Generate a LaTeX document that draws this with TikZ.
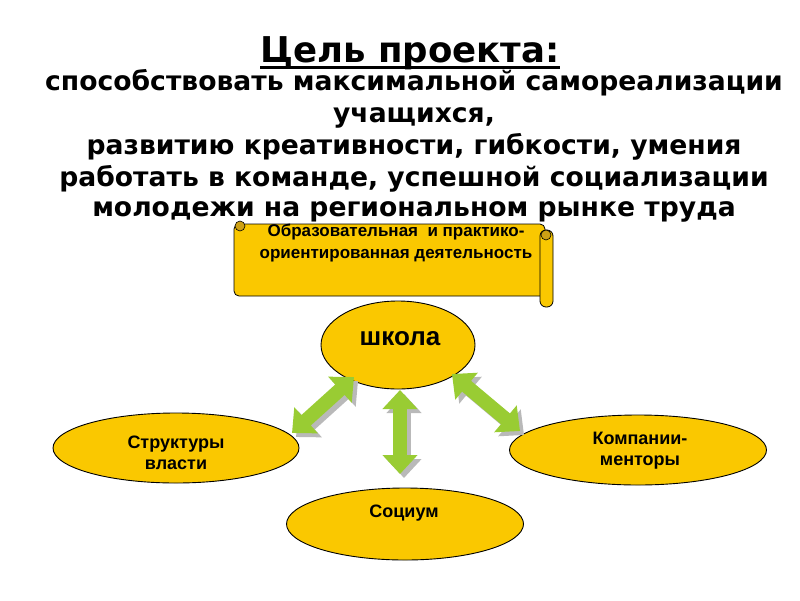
\documentclass[tikz,border=0pt]{standalone}
\usepackage{fontspec}
\setmainfont{DejaVu Sans}
\newfontfamily\arialfont{Liberation Sans}
\usetikzlibrary{arrows.meta,shapes.geometric}
\definecolor{gold}{RGB}{250,200,0}
\definecolor{darkgold}{RGB}{205,160,20}
\definecolor{arrowgreen}{RGB}{153,204,51}
\definecolor{shadowgrey}{RGB}{185,185,185}
\tikzset{
  bubble/.style={ellipse, draw=black, line width=0.9pt, fill=gold, inner sep=0pt},
  btext/.style={font=\arialfont\bfseries\fontsize{18}{21}\selectfont, align=center, inner sep=0pt},
  headline/.style={font=\bfseries\fontsize{26.6}{30}\selectfont, anchor=base, inner sep=0pt},
  dbl/.style={line width=14pt, draw=arrowgreen,
    {Triangle[width=34pt,length=19pt]}-{Triangle[width=34pt,length=19pt]}},
  dblshadow/.style={line width=14pt, draw=shadowgrey,
    {Triangle[width=34pt,length=19pt]}-{Triangle[width=34pt,length=19pt]}},
}
\begin{document}
\begin{tikzpicture}[x=1pt,y=-1pt]
\useasboundingbox (0,0) rectangle (800,600);
% title
\node[font=\bfseries\fontsize{35.5}{40}\selectfont, anchor=base, inner sep=0pt] (title) at (410,62) {Цель проекта:};
\draw[line width=3pt] ([yshift=-5pt]title.base west) -- ([yshift=-5pt]title.base east);
\node[headline] (l1) at (414,90) {способствовать максимальной самореализации};
\node[headline] (l2) at (414,122) {учащихся,};
\node[headline] (l3) at (414,154) {развитию креативности, гибкости, умения};
\node[headline] (l4) at (414,186) {работать в команде, успешной социализации};
\node[headline] (l5) at (414,216) {молодежи на региональном рынке труда};
% scroll
\draw[fill=gold, line width=0.8pt, rounded corners=5pt] (234,224) rectangle (545,296);
\draw[fill=gold, line width=0.8pt, rounded corners=6pt] (540,230) rectangle (553,307);
\draw[fill=darkgold, line width=0.6pt] (546,235) ellipse (5 and 5);
\draw[fill=darkgold, line width=0.6pt] (240,226) ellipse (5 and 5);
\node[font=\arialfont\bfseries\fontsize{17}{22}\selectfont, align=center, inner sep=0pt, anchor=north] (scrolltext) at (396,224)
  {Образовательная\ \ и практико-\\ориентированная деятельность};
% ellipses
\node[bubble, minimum width=154pt, minimum height=88pt] (school) at (398,345) {};
\node[font=\arialfont\bfseries\fontsize{26}{30}\selectfont, inner sep=0pt] (schooltext) at (400,339) {школа};
\node[bubble, minimum width=246pt, minimum height=70pt] (power) at (176,448) {};
\node[btext] (powertext) at (176,453) {Структуры\\власти};
\node[bubble, minimum width=257pt, minimum height=70pt] (mentor) at (638,450) {};
\node[btext] (mentortext) at (640,451) {Компании-\\менторы};
\node[bubble, minimum width=237pt, minimum height=72pt] (society) at (405,524) {};
\node[btext] (societytext) at (404,513) {Социум};
% arrows
\coordinate (aL1) at (354,377);
\coordinate (aL2) at (292,433);
\coordinate (aC1) at (400,390);
\coordinate (aC2) at (400,474);
\coordinate (aR1) at (452,374);
\coordinate (aR2) at (520,431);
\foreach \a/\b in {aL1/aL2, aC1/aC2, aR1/aR2}{
  \draw[dblshadow] ([shift={(4,4)}]\a) -- ([shift={(4,4)}]\b);
  \draw[dbl] (\a) -- (\b);
}
\end{tikzpicture}
\end{document}
